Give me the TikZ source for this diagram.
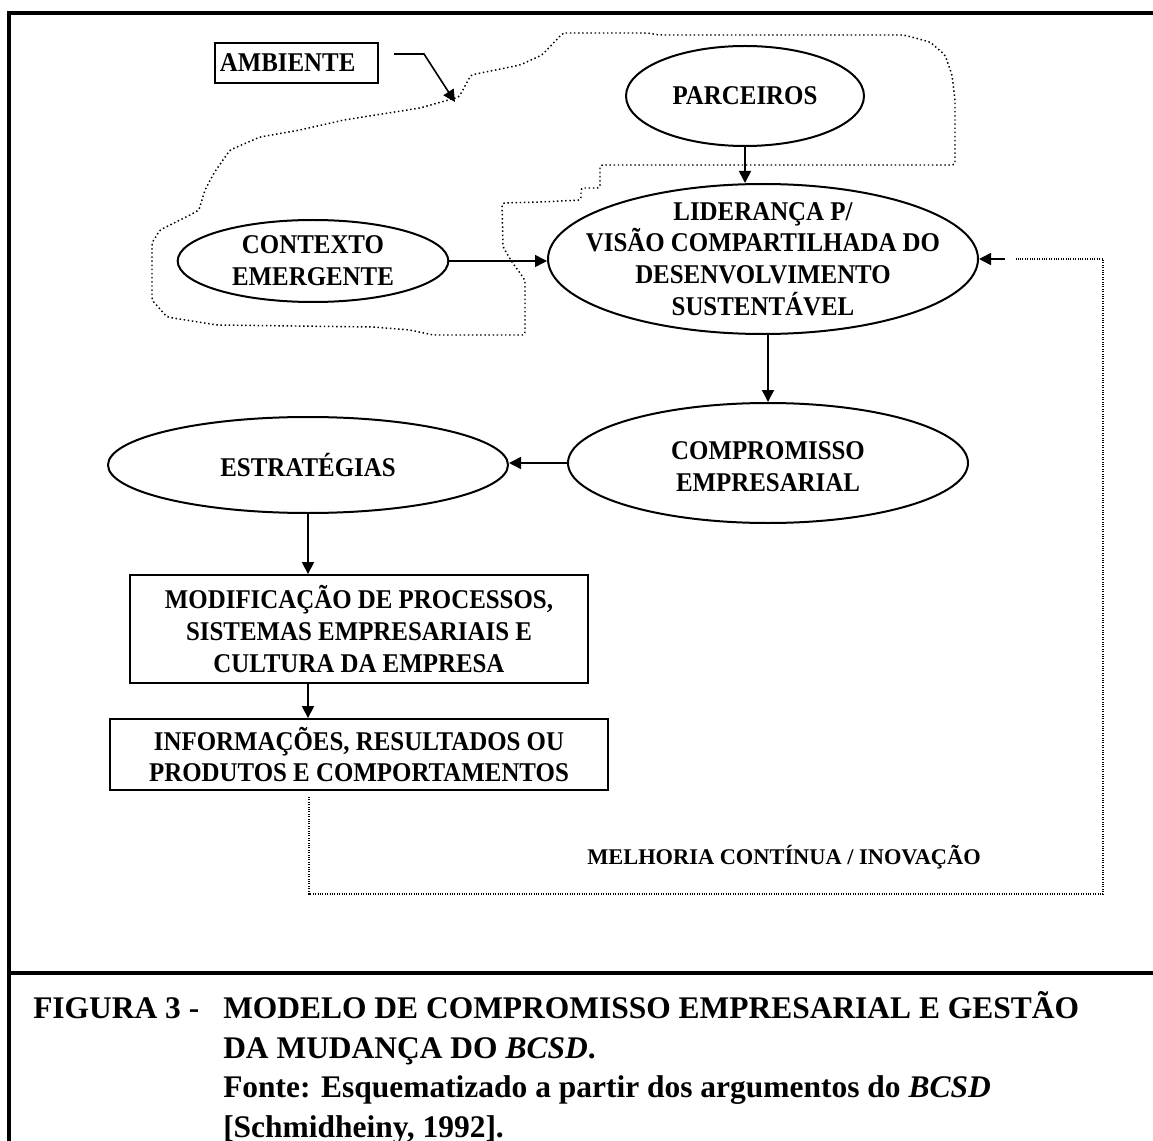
\documentclass[tikz,border=0pt]{standalone}
\usepackage{fontspec}
\setmainfont{Liberation Serif}
\newfontfamily\slimserif[FakeStretch=0.92]{Liberation Serif}
\usetikzlibrary{shapes.geometric,arrows.meta}

\begin{document}
\begin{tikzpicture}
        [x=0.75pt, y=-0.75pt,
        oval/.style 2 args={ellipse, draw, line width=1.5pt, inner sep=0pt, minimum width=#1, minimum height=#2},
        ovaltext/.style={align=center, inner sep=0pt, font=\slimserif\bfseries\fontsize{20.3}{23.8}\selectfont},
        box/.style={rectangle, draw, line width=1.4pt, inner sep=0pt, align=center, font=\slimserif\bfseries\fontsize{20.3}{23.8}\selectfont},
        flow/.style={line width=1.2pt, -{Triangle[length=9pt, width=9pt]}},
        ambient/.style={dotted, line width=1.1pt, rounded corners=2pt},
        feedback/.style={densely dotted, line width=0.8pt},
        outerframe/.style={line width=2.4pt},
        captext/.style={anchor=base west, inner sep=0pt, font=\bfseries\fontsize{23.6}{30}\selectfont}]

        \useasboundingbox (0,0) rectangle (1153,1141);

        % outer frame and caption rule
        \draw[outerframe] (9,1160) -- (9,13) -- (1170,13);
        \draw[outerframe] (9,973) -- (1170,973);

        % the environment boundary
        \draw[ambient] (563,33) -- (647,33) -- (660,35) -- (904,35) -- (930,42) -- (945,55) -- (952,75)
            -- (955,100) -- (955,165) -- (600,165) -- (600,188) -- (581,188) -- (581,200) -- (540,202)
            -- (502,203) -- (503,247) -- (512,262) -- (525,280) -- (525,335) -- (433,335) -- (410,330)
            -- (373,327) -- (217,325) -- (167,317) -- (152,300) -- (152,243) -- (160,230) -- (190,215)
            -- (199,210) -- (205,190) -- (214,173) -- (230,150) -- (260,137) -- (300,130) -- (344,120)
            -- (420,108) -- (459,97) -- (471,75) -- (520,65) -- (542,55) -- cycle;

        % nodes
        \node[box, align=left, text width=115pt, inner xsep=3.5pt, minimum height=30pt] (amb) at (296.5,63) {AMBIENTE};
        \node[oval={178.5pt}{75pt}, label={[ovaltext]center:PARCEIROS}] (parc) at (745,96) {};
        \node[oval={322.5pt}{112.5pt}, label={[ovaltext]center:{LIDERANÇA P/\\VISÃO COMPARTILHADA DO\\DESENVOLVIMENTO\\SUSTENTÁVEL}}] (lid) at (763,259) {};
        \node[oval={203pt}{61.5pt}, label={[ovaltext]center:{CONTEXTO\\EMERGENTE}}] (ctx) at (313,261) {};
        \node[oval={300pt}{90pt}, label={[ovaltext, yshift=-3pt]center:{COMPROMISSO\\EMPRESARIAL}}] (comp) at (768,463) {};
        \node[oval={300pt}{72pt}, label={[ovaltext]center:ESTRATÉGIAS}] (estr) at (308,465) {};
        \node[box, minimum width=343.5pt, minimum height=81pt] (modif) at (359,629) {MODIFICAÇÃO DE PROCESSOS,\\SISTEMAS EMPRESARIAIS E\\CULTURA DA EMPRESA};
        \node[box, minimum width=373.5pt, minimum height=53.25pt] (info) at (359,754.5) {INFORMAÇÕES, RESULTADOS OU\\PRODUTOS E COMPORTAMENTOS};
        \node[anchor=base west, inner sep=0pt, font=\bfseries\fontsize{16.8}{19}\selectfont] (melhoria) at (587,864) {MELHORIA CONTÍNUA / INOVAÇÃO};

        % free ends of the pointer and of the feedback loop
        \coordinate (amb-a) at (394,54);
        \coordinate (amb-b) at (424,54);
        \coordinate (amb-c) at (455,102);
        \coordinate (fb-start) at (309,797);
        \coordinate (fb-low) at (1103,894);
        \coordinate (fb-high) at (1103,259);
        \coordinate (fb-end) at (1016,259);
        \coordinate (fb-tail) at (1005,259);

        % arrows
        \draw[flow] (amb-a) -- (amb-b) -- (amb-c);
        \draw[flow] (parc.south) -- (parc.south |- lid.north);
        \draw[flow] (ctx.east) -- (ctx.east -| lid.west);
        \draw[flow] (comp.north |- lid.south) -- (comp.north);
        \draw[flow] (comp.west) -- (comp.west -| estr.east);
        \draw[flow] (estr.south) -- (estr.south |- modif.north);
        \draw[flow] (estr.south |- modif.south) -- (estr.south |- info.north);

        % feedback loop
        \draw[feedback] (fb-start) |- (fb-low) -- (fb-high) -- (fb-end);
        \draw[flow] (fb-tail) -- (lid.east);

        % caption
        \node[captext] (fig-num) at (33,1018) {FIGURA 3 -};
        \node[captext] (fig-title) at (223,1018) {MODELO DE COMPROMISSO EMPRESARIAL E GESTÃO};
        \node[captext] (fig-title2) at (223,1058) {DA MUDANÇA DO \textit{BCSD}.};
        \node[captext] (fig-source) at (223,1097) {Fonte: Esquematizado a partir dos argumentos do \textit{BCSD}};
        \node[captext] (fig-ref) at (223,1137) {[Schmidheiny, 1992].};

    \end{tikzpicture}
\end{document}
